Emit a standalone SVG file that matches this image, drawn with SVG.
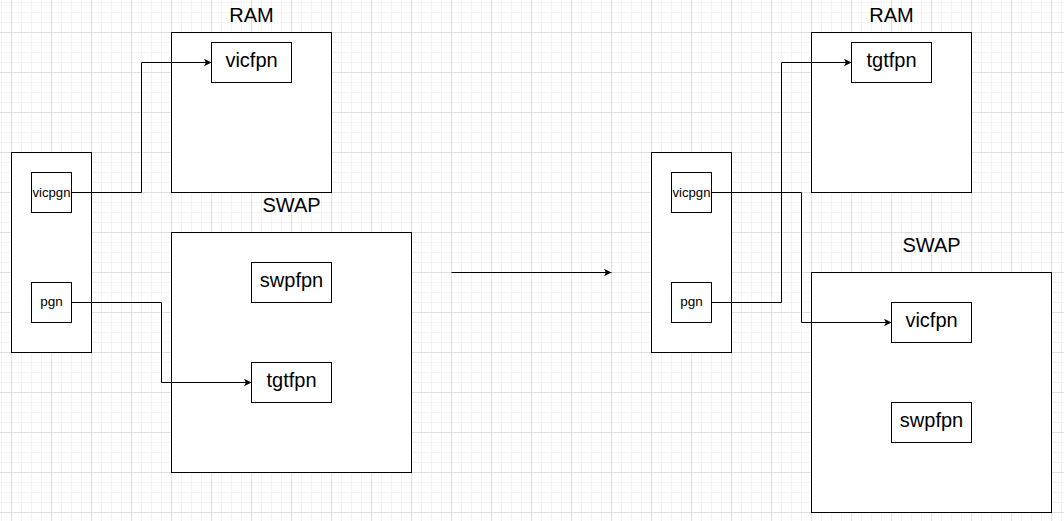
<svg xmlns="http://www.w3.org/2000/svg" width="1064" height="521" viewBox="0 0 1064 521">
  <defs>
    <pattern id="grid" patternUnits="userSpaceOnUse" x="11" y="32" width="40" height="40">
      <path d="M10.5 0V40M20.5 0V40M30.5 0V40M0 10.5H40M0 20.5H40M0 30.5H40" stroke="#f4f4f4" stroke-width="1" fill="none"/>
      <path d="M0.5 0V40M0 0.5H40" stroke="#e0e0e0" stroke-width="1" fill="none"/>
    </pattern>
    <marker id="arr" markerUnits="userSpaceOnUse" markerWidth="10" markerHeight="10" viewBox="-8 -5 10 10" refX="0" refY="0" orient="auto">
      <path d="M0 0L-7.5 -3.8L-5.6 0L-7.5 3.8Z" fill="#000"/>
    </marker>
    <style>
      .box{fill:#fff;stroke:#000;stroke-width:1}
      .lbl{font-family:"Liberation Sans",Arial,sans-serif;font-size:20px;fill:#000;text-anchor:middle}
      .sm{font-family:"Liberation Sans",Arial,sans-serif;font-size:13.5px;fill:#000;text-anchor:middle}
      .edge{fill:none;stroke:#000;stroke-width:1}
    </style>
  </defs>
  <rect width="1064" height="521" fill="#fff"/>
  <rect width="1064" height="521" fill="url(#grid)"/>

  <!-- LEFT -->
  <g id="pt-left"><rect class="box" x="11.5" y="152.5" width="80" height="200"/></g>
  <g id="vicpgn-left"><rect class="box" x="31.5" y="172.5" width="40" height="40"/><text class="sm" x="51.5" y="197" textLength="38" lengthAdjust="spacingAndGlyphs">vicpgn</text></g>
  <g id="pgn-left"><rect class="box" x="31.5" y="282.5" width="40" height="40"/><text class="sm" x="51.5" y="306">pgn</text></g>
  <g id="ram-left"><rect class="box" x="171.5" y="32.5" width="160" height="160"/><text class="lbl" x="251.5" y="22">RAM</text></g>
  <g id="vicfpn-left"><rect class="box" x="211.5" y="42.5" width="80" height="40"/><text class="lbl" x="251.5" y="67">vicfpn</text></g>
  <g id="swap-left"><rect class="box" x="171.5" y="232.5" width="240" height="240"/><text class="lbl" x="291.5" y="212">SWAP</text></g>
  <g id="swpfpn-left"><rect class="box" x="251.5" y="262.5" width="80" height="40"/><text class="lbl" x="291.5" y="287">swpfpn</text></g>
  <g id="tgtfpn-left"><rect class="box" x="251.5" y="362.5" width="80" height="40"/><text class="lbl" x="291.5" y="387">tgtfpn</text></g>

  <!-- RIGHT -->
  <g id="pt-right"><rect class="box" x="651.5" y="152.5" width="80" height="200"/></g>
  <g id="vicpgn-right"><rect class="box" x="671.5" y="172.5" width="40" height="40"/><text class="sm" x="691.5" y="197" textLength="38" lengthAdjust="spacingAndGlyphs">vicpgn</text></g>
  <g id="pgn-right"><rect class="box" x="671.5" y="282.5" width="40" height="40"/><text class="sm" x="691.5" y="306">pgn</text></g>
  <g id="ram-right"><rect class="box" x="811.5" y="32.5" width="160" height="160"/><text class="lbl" x="891.5" y="22">RAM</text></g>
  <g id="tgtfpn-right"><rect class="box" x="851.5" y="42.5" width="80" height="40"/><text class="lbl" x="891.5" y="67">tgtfpn</text></g>
  <g id="swap-right"><rect class="box" x="811.5" y="272.5" width="240" height="240"/><text class="lbl" x="931.5" y="252">SWAP</text></g>
  <g id="vicfpn-right"><rect class="box" x="891.5" y="302.5" width="80" height="40"/><text class="lbl" x="931.5" y="327">vicfpn</text></g>
  <g id="swpfpn-right"><rect class="box" x="891.5" y="402.5" width="80" height="40"/><text class="lbl" x="931.5" y="427">swpfpn</text></g>

  <g id="connectors">
    <path class="edge" d="M71.5 192.5H141.5V62.5H211.5" marker-end="url(#arr)"/>
    <path class="edge" d="M71.5 302.5H161.5V382.5H251.5" marker-end="url(#arr)"/>
    <path class="edge" d="M451.5 272.5H611.5" marker-end="url(#arr)"/>
    <path class="edge" d="M711.5 302.5H781.5V62.5H851.5" marker-end="url(#arr)"/>
    <path class="edge" d="M711.5 192.5H801.5V322.5H891.5" marker-end="url(#arr)"/>
  </g>
</svg>
